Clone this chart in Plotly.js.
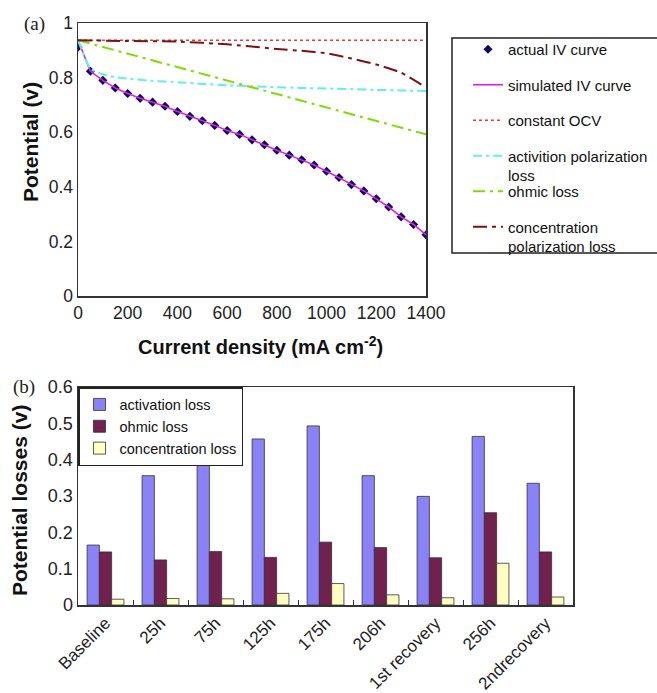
<!DOCTYPE html>
<html><head><meta charset="utf-8">
<script src="https://cdn.plot.ly/plotly-3.0.1.min.js"></script>
<style>html,body{margin:0;padding:0;background:#fff}#chart{width:657px;height:693px}</style>
</head><body><div id="chart"></div>
<script>
// ---- Panel (a): IV curve and loss curves ----
const currentDensity = [0,50,100,150,200,250,300,350,400,450,500,550,600,650,700,750,800,850,900,950,1000,1050,1100,1150,1200,1250,1300,1350,1400];
const actualIV = [0.911,0.823,0.790,0.762,0.742,0.724,0.710,0.695,0.676,0.658,0.642,0.625,0.606,0.592,0.572,0.554,0.534,0.516,0.499,0.480,0.457,0.434,0.408,0.385,0.356,0.326,0.290,0.262,0.224];
const simulatedIV = [0.937,0.823,0.790,0.762,0.742,0.724,0.710,0.695,0.676,0.658,0.642,0.625,0.606,0.592,0.572,0.554,0.534,0.516,0.499,0.480,0.457,0.434,0.408,0.385,0.356,0.326,0.290,0.262,0.224];
const ocvX = [0,1400];
const ocvV = [0.937,0.937];
const activationX = [0,50,100,150,200,300,400,500,600,700,800,900,1000,1100,1200,1300,1400];
const activationV = [0.937,0.832,0.812,0.802,0.796,0.788,0.783,0.777,0.772,0.768,0.765,0.762,0.760,0.758,0.755,0.753,0.751];
const ohmicX = [0,200,400,600,800,1000,1200,1400];
const ohmicV = [0.937,0.888,0.839,0.789,0.740,0.691,0.641,0.592];
const concX = [0,200,400,600,800,900,1000,1100,1200,1300,1400];
const concV = [0.937,0.934,0.932,0.922,0.905,0.898,0.889,0.870,0.848,0.818,0.764];
const xTicksA = [0,200,400,600,800,1000,1200,1400];

// ---- Panel (b): potential losses ----
const stages = ['Baseline','25h','75h','125h','175h','206h','1st recovery','256h','2ndrecovery'];
const activationLoss = [0.165,0.356,0.415,0.457,0.493,0.356,0.299,0.464,0.335];
const ohmicLoss = [0.146,0.124,0.147,0.131,0.173,0.158,0.130,0.254,0.146];
const concentrationLoss = [0.016,0.018,0.017,0.032,0.059,0.028,0.020,0.115,0.022];

const W = 657, H = 693;
const px = v => v / W, py = v => 1 - v / H;
const FONT = '"Liberation Sans", Arial, sans-serif';
const SERIF = '"Liberation Serif", "Times New Roman", serif';

const traces = [
  {x: currentDensity, y: actualIV, type:'scatter', mode:'markers', name:'actual IV curve',
   marker:{symbol:'diamond', size:7, color:'#0b0b5e'}, xaxis:'x', yaxis:'y', legend:'legend', legendgroup:'g1'},
  {x: currentDensity, y: simulatedIV, type:'scatter', mode:'lines', name:'simulated IV curve',
   line:{color:'#e020e0', width:1.6}, xaxis:'x', yaxis:'y', legend:'legend', legendgroup:'g2'},
  {x: ocvX, y: ocvV, type:'scatter', mode:'lines', name:'constant OCV',
   line:{color:'#e83a3a', width:1.6, dash:'dot'}, xaxis:'x', yaxis:'y', legend:'legend', legendgroup:'g3'},
  {x: activationX, y: activationV, type:'scatter', mode:'lines', name:'activition polarization<br>loss',
   line:{color:'#5ef0f0', width:2, dash:'9px,4px,3px,4px', shape:'spline', smoothing:0.4}, xaxis:'x', yaxis:'y', legend:'legend', legendgroup:'g4'},
  {x: ohmicX, y: ohmicV, type:'scatter', mode:'lines', name:'ohmic loss',
   line:{color:'#7edc00', width:2, dash:'12px,5px,3px,5px'}, xaxis:'x', yaxis:'y', legend:'legend2', legendgroup:'g5'},
  {x: concX, y: concV, type:'scatter', mode:'lines', name:'concentration<br>polarization loss',
   line:{color:'#7a1414', width:2, dash:'14px,5px,4px,5px', shape:'spline', smoothing:0.4}, xaxis:'x', yaxis:'y', legend:'legend2', legendgroup:'g6'},
  {x: stages, y: activationLoss, type:'bar', name:'activation loss',
   marker:{color:'#8a82f8', line:{color:'#333', width:0.8}}, xaxis:'x2', yaxis:'y2', legend:'legend3'},
  {x: stages, y: ohmicLoss, type:'bar', name:'ohmic loss',
   marker:{color:'#72214f', line:{color:'#333', width:0.8}}, xaxis:'x2', yaxis:'y2', legend:'legend3'},
  {x: stages, y: concentrationLoss, type:'bar', name:'concentration loss',
   marker:{color:'#ffffc2', line:{color:'#333', width:0.8}}, xaxis:'x2', yaxis:'y2', legend:'legend3'}
];

const axisBase = {showline:true, mirror:true, linecolor:'#333', linewidth:1.5, showgrid:false, zeroline:false,
  tickfont:{family:FONT, size:17.5, color:'#222'}};

const layout = {
  width: W, height: H, margin:{l:0, r:0, t:0, b:0},
  paper_bgcolor:'#fff', plot_bgcolor:'#fff',
  font:{family:FONT, color:'#111'},
  showlegend:true,
  barmode:'group', bargap:0.33, bargroupgap:0,
  xaxis: Object.assign({}, axisBase, {domain:[px(78), px(426)], range:[0,1400], tickvals:xTicksA, ticks:'', anchor:'y'}),
  yaxis: Object.assign({}, axisBase, {domain:[py(296), py(23)], range:[0,1], dtick:0.2, ticks:'', anchor:'x'}),
  xaxis2: Object.assign({}, axisBase, {domain:[px(78), px(573)], type:'category', anchor:'y2', tickangle:-45,
    ticks:'inside', tickson:'boundaries', ticklen:5, tickcolor:'#333', tickfont:{family:FONT, size:17, color:'#222'}}),
  yaxis2: Object.assign({}, axisBase, {domain:[py(605), py(387)], range:[0,0.6], dtick:0.1, ticks:'', anchor:'x2',
    tickfont:{family:FONT, size:18, color:'#222'}}),
  legend: {x:px(468), y:py(33), xanchor:'left', yanchor:'top', valign:'top', tracegroupgap:13,
    bgcolor:'rgba(0,0,0,0)', borderwidth:0, font:{family:FONT, size:15, color:'#111'}},
  legend2: {x:px(468), y:py(175), xanchor:'left', yanchor:'top', valign:'top', tracegroupgap:13,
    bgcolor:'rgba(0,0,0,0)', borderwidth:0, font:{family:FONT, size:15, color:'#111'}},
  legend3: {x:px(78), y:py(387), xanchor:'left', yanchor:'top', bgcolor:'#fff', bordercolor:'#222', borderwidth:1.5,
    font:{family:FONT, size:14.5, color:'#111'}, traceorder:'normal'},
  shapes: [
    {type:'rect', xref:'paper', yref:'paper', x0:px(452), x1:px(660), y0:py(253), y1:py(38),
     line:{color:'#222', width:1.5}, fillcolor:'rgba(0,0,0,0)', layer:'below'}
  ],
  annotations: [
    {text:'(a)', xref:'paper', yref:'paper', x:px(34), y:py(24), showarrow:false, xanchor:'center', yanchor:'middle',
     font:{family:SERIF, size:19, color:'#222'}},
    {text:'(b)', xref:'paper', yref:'paper', x:px(24), y:py(387), showarrow:false, xanchor:'center', yanchor:'middle',
     font:{family:SERIF, size:19, color:'#222'}},
    {text:'<b>Potential (v)</b>', xref:'paper', yref:'paper', x:px(30), y:py(142), showarrow:false, textangle:-90,
     xanchor:'center', yanchor:'middle', font:{family:FONT, size:21, color:'#111'}},
    {text:'<b>Current density (mA cm<sup>-2</sup>)</b>', xref:'paper', yref:'paper', x:px(260), y:py(345), showarrow:false,
     xanchor:'center', yanchor:'middle', font:{family:FONT, size:20, color:'#111'}},
    {text:'<b>Potential losses (v)</b>', xref:'paper', yref:'paper', x:px(20), y:py(501), showarrow:false, textangle:-90,
     xanchor:'center', yanchor:'middle', font:{family:FONT, size:21, color:'#111'}}
  ]
};

Plotly.newPlot('chart', traces, layout, {displayModeBar:false, staticPlot:true});
</script>
</body></html>
